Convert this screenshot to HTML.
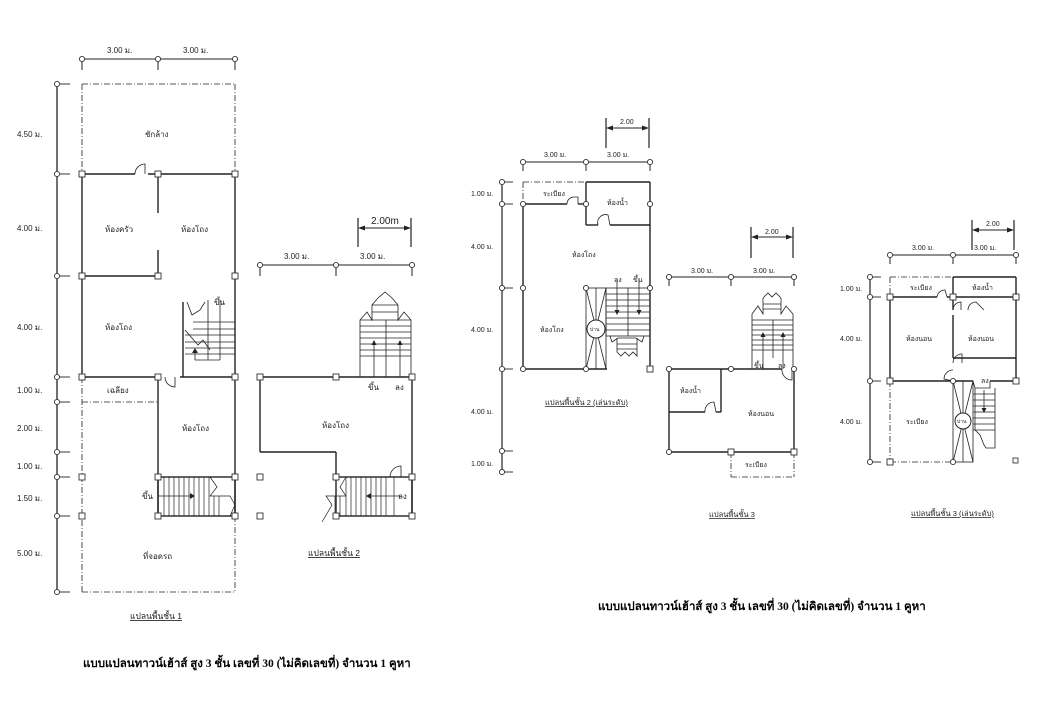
<!DOCTYPE html>
<html><head><meta charset="utf-8"><style>
html,body{margin:0;padding:0;background:#fff;}
svg{display:block;}
text{font-family:"Liberation Sans","Noto Sans CJK SC",sans-serif;fill:#222;}
.t{font-size:8px;}
.s{font-size:7px;}
.cap{font-size:8.5px;text-decoration:underline;}
.ttl{font-family:"Liberation Serif","Noto Serif CJK SC",serif;font-size:11.5px;font-weight:bold;fill:#000;}
</style></head><body>
<svg width="1040" height="720" viewBox="0 0 1040 720" xmlns="http://www.w3.org/2000/svg">
<defs>
<g id="c"><circle r="2.6" fill="#fff" stroke="#333" stroke-width="0.9"/></g>
<g id="q"><rect x="-3" y="-3" width="6" height="6" fill="#fff" stroke="#333" stroke-width="0.9"/></g>
</defs>
<g stroke="#222" fill="none" stroke-width="1">

<!-- ===== PLAN 1 ===== -->
<line x1="82" y1="59" x2="235" y2="59"/>
<line x1="82" y1="59" x2="82" y2="70"/><line x1="158" y1="59" x2="158" y2="70"/><line x1="235" y1="59" x2="235" y2="70"/>
<line x1="57" y1="84" x2="57" y2="592" stroke-width="1.3"/>
<g stroke-width="0.9">
<line x1="57" y1="84" x2="70" y2="84"/><line x1="57" y1="174" x2="70" y2="174"/><line x1="57" y1="276" x2="70" y2="276"/>
<line x1="57" y1="377" x2="70" y2="377"/><line x1="57" y1="402" x2="70" y2="402"/><line x1="57" y1="452" x2="70" y2="452"/>
<line x1="57" y1="477" x2="70" y2="477"/><line x1="57" y1="516" x2="70" y2="516"/><line x1="57" y1="592" x2="70" y2="592"/>
</g>
<g stroke-dasharray="6,2,1,2" stroke-width="0.8">
<line x1="82" y1="84" x2="235" y2="84"/><line x1="82" y1="84" x2="82" y2="174"/><line x1="235" y1="84" x2="235" y2="174"/>
<line x1="82" y1="402" x2="158" y2="402"/><line x1="82" y1="377" x2="82" y2="592"/>
<line x1="82" y1="592" x2="235" y2="592"/><line x1="235" y1="516" x2="235" y2="592"/>
</g>
<g stroke-width="1.4">
<line x1="82" y1="174" x2="135" y2="174"/><line x1="148" y1="174" x2="235" y2="174"/>
<line x1="82" y1="174" x2="82" y2="377"/><line x1="235" y1="174" x2="235" y2="516"/>
<line x1="158" y1="174" x2="158" y2="213"/><line x1="158" y1="250" x2="158" y2="276"/>
<line x1="82" y1="276" x2="158" y2="276"/>
<line x1="82" y1="377" x2="158" y2="377"/><line x1="180" y1="377" x2="235" y2="377"/>
<line x1="158" y1="377" x2="158" y2="516"/>
<line x1="183" y1="302" x2="183" y2="377"/>
</g>
<path d="M135 174 A10 10 0 0 1 145 164 L145 174" stroke-width="0.8"/>
<path d="M165 377 A10 10 0 0 0 175 387 L175 377" stroke-width="0.8"/>
<!-- stair plan1 upper -->
<g stroke-width="0.8">
<line x1="193" y1="322" x2="235" y2="322"/><line x1="193" y1="329" x2="235" y2="329"/><line x1="185" y1="335" x2="235" y2="335"/>
<line x1="185" y1="342" x2="235" y2="342"/><line x1="185" y1="348" x2="235" y2="348"/><line x1="185" y1="354" x2="235" y2="354"/>
<line x1="208" y1="300" x2="208" y2="360"/><line x1="195" y1="360" x2="220" y2="360"/><line x1="220" y1="300" x2="220" y2="360"/>
<line x1="195" y1="350" x2="195" y2="360"/>
<path d="M185 330 L198 345 L203 340 L210 350"/>
<path d="M187 302 L192 315 L200 310 L205 302"/>
</g>
<polygon points="195,348 192,353 198,353" fill="#222" stroke="none"/>
<!-- stair plan1 lower -->
<rect x="158" y="477" width="77" height="39" stroke-width="1.4"/>
<g stroke-width="0.7">
<line x1="164" y1="477" x2="164" y2="516"/><line x1="169" y1="477" x2="169" y2="516"/><line x1="174" y1="477" x2="174" y2="516"/>
<line x1="179" y1="477" x2="179" y2="516"/><line x1="184" y1="477" x2="184" y2="516"/><line x1="189" y1="477" x2="189" y2="516"/>
<line x1="194" y1="477" x2="194" y2="516"/><line x1="199" y1="477" x2="199" y2="516"/><line x1="204" y1="477" x2="204" y2="516"/>
<line x1="209" y1="477" x2="209" y2="516"/><line x1="214" y1="496" x2="214" y2="516"/><line x1="219" y1="496" x2="219" y2="516"/>
<line x1="158" y1="496" x2="190" y2="496"/>
<path d="M210 477 L217 487 L210 496 L230 496 L235 505 L230 516"/>
</g>
<polygon points="190,493 190,499 195,496" fill="#222" stroke="none"/>

<!-- ===== PLAN 2 (left-middle) ===== -->
<line x1="260" y1="265" x2="412" y2="265"/>
<line x1="260" y1="265" x2="260" y2="276"/><line x1="336" y1="265" x2="336" y2="276"/><line x1="412" y1="265" x2="412" y2="276"/>
<line x1="358" y1="218" x2="358" y2="247" stroke-width="1.2"/><line x1="411" y1="218" x2="411" y2="247" stroke-width="1.2"/>
<line x1="362" y1="228" x2="407" y2="228"/>
<polygon points="358,228 365,225.5 365,230.5" fill="#222" stroke="none"/><polygon points="411,228 404,225.5 404,230.5" fill="#222" stroke="none"/>
<g stroke-width="0.8">
<path d="M360 377 L360 320 L367 312 L372 320 L372 305 L378 298 L385 292 L392 298 L398 305 L398 320 L404 312 L411 320 L411 377"/>
<line x1="372" y1="305" x2="398" y2="305"/><line x1="372" y1="312" x2="398" y2="312"/><line x1="360" y1="320" x2="411" y2="320"/>
<line x1="360" y1="326" x2="411" y2="326"/><line x1="360" y1="332" x2="411" y2="332"/><line x1="360" y1="338" x2="411" y2="338"/>
<line x1="360" y1="344" x2="411" y2="344"/><line x1="360" y1="350" x2="411" y2="350"/><line x1="360" y1="356" x2="411" y2="356"/>
<line x1="386" y1="320" x2="386" y2="377"/>
<line x1="374" y1="342" x2="374" y2="377"/><line x1="400" y1="342" x2="400" y2="377"/>
</g>
<polygon points="374,340 371.5,345 376.5,345" fill="#222" stroke="none"/><polygon points="400,340 397.5,345 402.5,345" fill="#222" stroke="none"/>
<g stroke-width="1.4">
<line x1="260" y1="377" x2="412" y2="377"/><line x1="260" y1="377" x2="260" y2="452"/>
<line x1="260" y1="452" x2="336" y2="452"/><line x1="336" y1="452" x2="336" y2="477"/>
<line x1="412" y1="377" x2="412" y2="516"/>
<rect x="336" y="477" width="76" height="39"/>
</g>
<path d="M390 477 A11 11 0 0 1 401 466 L401 477" stroke-width="0.8"/>
<g stroke-width="0.7">
<line x1="346" y1="477" x2="346" y2="516"/><line x1="351" y1="477" x2="351" y2="516"/><line x1="356" y1="477" x2="356" y2="516"/>
<line x1="361" y1="477" x2="361" y2="516"/><line x1="366" y1="477" x2="366" y2="516"/><line x1="371" y1="477" x2="371" y2="516"/>
<line x1="376" y1="477" x2="376" y2="516"/><line x1="381" y1="477" x2="381" y2="516"/><line x1="386" y1="477" x2="386" y2="516"/>
<line x1="394" y1="477" x2="394" y2="516"/>
<line x1="370" y1="496" x2="400" y2="496"/>
<path d="M346 477 L340 487 L346 496 L326 496 L332 505 L322 522"/>
<line x1="340" y1="496" x2="340" y2="516"/><line x1="335" y1="496" x2="335" y2="516"/>
</g>
<polygon points="366,496 371,493 371,499" fill="#222" stroke="none"/>

<!-- ===== PLAN 3 (2nd floor alt) ===== -->
<line x1="523" y1="162" x2="650" y2="162"/>
<line x1="523" y1="162" x2="523" y2="171"/><line x1="586" y1="162" x2="586" y2="171"/><line x1="650" y1="162" x2="650" y2="171"/>
<line x1="606" y1="118" x2="606" y2="148" stroke-width="1.2"/><line x1="649" y1="118" x2="649" y2="148" stroke-width="1.2"/>
<line x1="610" y1="128" x2="645" y2="128"/>
<polygon points="606,128 613,125.5 613,130.5" fill="#222" stroke="none"/><polygon points="649,128 642,125.5 642,130.5" fill="#222" stroke="none"/>
<line x1="502" y1="182" x2="502" y2="472" stroke-width="1.2"/>
<g stroke-width="0.9">
<line x1="502" y1="182" x2="513" y2="182"/><line x1="502" y1="204" x2="513" y2="204"/><line x1="502" y1="288" x2="513" y2="288"/>
<line x1="502" y1="369" x2="513" y2="369"/><line x1="502" y1="451" x2="513" y2="451"/><line x1="502" y1="472" x2="513" y2="472"/>
</g>
<g stroke-dasharray="6,2,1,2" stroke-width="0.8">
<line x1="523" y1="182" x2="586" y2="182"/><line x1="523" y1="182" x2="523" y2="204"/>
</g>
<g stroke-width="1.4">
<line x1="523" y1="204" x2="567" y2="204"/><line x1="578" y1="204" x2="586" y2="204"/>
<line x1="586" y1="182" x2="650" y2="182"/><line x1="586" y1="182" x2="586" y2="225"/>
<line x1="586" y1="225" x2="598" y2="225"/><line x1="610" y1="225" x2="650" y2="225"/>
<line x1="523" y1="204" x2="523" y2="369"/><line x1="650" y1="182" x2="650" y2="369"/>
<line x1="523" y1="369" x2="607" y2="369"/>
</g>
<path d="M567 204 A7 7 0 0 1 574 197 L578 197 L578 204" stroke-width="0.8"/>
<path d="M598 225 A8 8 0 0 1 608 215 L610 225" stroke-width="0.8"/>
<!-- fan & stair -->
<g stroke-width="0.8">
<rect x="586" y="288" width="20" height="81"/>
<line x1="586" y1="288" x2="606" y2="369"/><line x1="606" y1="288" x2="586" y2="369"/>
<line x1="596" y1="288" x2="596" y2="369"/>
</g>
<circle cx="596" cy="329" r="9" fill="#fff" stroke="#222" stroke-width="1"/>
<g stroke-width="0.8">
<rect x="606" y="288" width="44" height="48"/>
<line x1="606" y1="294" x2="650" y2="294"/><line x1="606" y1="300" x2="650" y2="300"/><line x1="606" y1="306" x2="650" y2="306"/>
<line x1="606" y1="312" x2="650" y2="312"/><line x1="606" y1="318" x2="650" y2="318"/><line x1="606" y1="324" x2="650" y2="324"/>
<line x1="606" y1="330" x2="650" y2="330"/><line x1="628" y1="288" x2="628" y2="336"/>
<line x1="617" y1="280" x2="617" y2="312"/><line x1="639" y1="280" x2="639" y2="312"/>
<path d="M610 336 L612 342 L618 338 L636 338 L642 342 L644 336"/>
<path d="M617 338 L617 352 L621 356 L625 352 L629 356 L633 352 L637 356 L637 338"/>
<line x1="617" y1="344" x2="637" y2="344"/><line x1="617" y1="349" x2="637" y2="349"/>
</g>
<polygon points="617,315 614.5,310 619.5,310" fill="#222" stroke="none"/><polygon points="639,315 636.5,310 641.5,310" fill="#222" stroke="none"/>

<!-- ===== PLAN 4 (3rd floor) ===== -->
<line x1="669" y1="277" x2="794" y2="277"/>
<line x1="669" y1="277" x2="669" y2="286"/><line x1="731" y1="277" x2="731" y2="286"/><line x1="794" y1="277" x2="794" y2="286"/>
<line x1="751" y1="227" x2="751" y2="258" stroke-width="1.2"/><line x1="793" y1="227" x2="793" y2="258" stroke-width="1.2"/>
<line x1="755" y1="237" x2="789" y2="237"/>
<polygon points="751,237 758,234.5 758,239.5" fill="#222" stroke="none"/><polygon points="793,237 786,234.5 786,239.5" fill="#222" stroke="none"/>
<g stroke-width="0.8">
<path d="M752 369 L752 314 L758 306 L763 314 L763 298 L768 293 L772 297 L776 293 L781 298 L781 314 L786 306 L793 314 L793 369"/>
<line x1="763" y1="304" x2="781" y2="304"/><line x1="763" y1="309" x2="781" y2="309"/>
<line x1="752" y1="320" x2="793" y2="320"/><line x1="752" y1="325" x2="793" y2="325"/><line x1="752" y1="330" x2="793" y2="330"/>
<line x1="752" y1="335" x2="793" y2="335"/><line x1="752" y1="340" x2="793" y2="340"/><line x1="752" y1="345" x2="793" y2="345"/>
<line x1="752" y1="350" x2="793" y2="350"/><line x1="773" y1="320" x2="773" y2="358"/>
<line x1="763" y1="334" x2="763" y2="369"/><line x1="783" y1="334" x2="783" y2="369"/>
</g>
<polygon points="763,332 760.5,337 765.5,337" fill="#222" stroke="none"/><polygon points="783,332 780.5,337 785.5,337" fill="#222" stroke="none"/>
<g stroke-width="1.4">
<line x1="669" y1="369" x2="782" y2="369"/><line x1="669" y1="369" x2="669" y2="452"/>
<line x1="794" y1="369" x2="794" y2="452"/><line x1="669" y1="452" x2="794" y2="452"/>
<line x1="721" y1="369" x2="721" y2="412"/><line x1="669" y1="412" x2="705" y2="412"/><line x1="716" y1="412" x2="721" y2="412"/>
</g>
<path d="M705 412 A9 9 0 0 1 714 402 L716 412" stroke-width="0.8"/>
<path d="M782 369 A10 10 0 0 0 792 380 L792 369" stroke-width="0.8"/>
<g stroke-dasharray="6,2,1,2" stroke-width="0.8">
<line x1="731" y1="452" x2="731" y2="477"/><line x1="731" y1="477" x2="794" y2="477"/><line x1="794" y1="452" x2="794" y2="477"/>
</g>

<!-- ===== PLAN 5 (3rd floor alt) ===== -->
<line x1="890" y1="255" x2="1016" y2="255"/>
<line x1="890" y1="255" x2="890" y2="264"/><line x1="953" y1="255" x2="953" y2="264"/><line x1="1016" y1="255" x2="1016" y2="264"/>
<line x1="972" y1="220" x2="972" y2="250" stroke-width="1.2"/><line x1="1014" y1="220" x2="1014" y2="250" stroke-width="1.2"/>
<line x1="976" y1="230" x2="1010" y2="230"/>
<polygon points="972,230 979,227.5 979,232.5" fill="#222" stroke="none"/><polygon points="1014,230 1007,227.5 1007,232.5" fill="#222" stroke="none"/>
<line x1="870" y1="277" x2="870" y2="462" stroke-width="1.2"/>
<g stroke-width="0.9">
<line x1="870" y1="277" x2="881" y2="277"/><line x1="870" y1="297" x2="881" y2="297"/><line x1="870" y1="381" x2="881" y2="381"/><line x1="870" y1="462" x2="881" y2="462"/>
</g>
<g stroke-dasharray="6,2,1,2" stroke-width="0.8">
<line x1="890" y1="277" x2="953" y2="277"/><line x1="890" y1="277" x2="890" y2="297"/>
<line x1="890" y1="381" x2="890" y2="462"/><line x1="890" y1="462" x2="953" y2="462"/>
</g>
<g stroke-width="1.4">
<line x1="953" y1="277" x2="1016" y2="277"/><line x1="1016" y1="277" x2="1016" y2="381"/>
<line x1="890" y1="297" x2="937" y2="297"/><line x1="947" y1="297" x2="1016" y2="297"/>
<line x1="890" y1="297" x2="890" y2="381"/><line x1="953" y1="277" x2="953" y2="310"/>
<line x1="953" y1="315" x2="953" y2="358"/><line x1="953" y1="358" x2="1016" y2="358"/>
<line x1="890" y1="381" x2="973" y2="381"/><line x1="990" y1="381" x2="1016" y2="381"/>
</g>
<path d="M937 297 A8 8 0 0 1 945 290 L947 297" stroke-width="0.8"/>
<path d="M953 310 A8 8 0 0 1 961 302 L961 310" stroke-width="0.8"/>
<path d="M968 310 A8 8 0 0 1 976 302 L984 310" stroke-width="0.8"/>
<path d="M953 363 A9 9 0 0 1 962 354 L962 363" stroke-width="0.8"/>
<path d="M953 370 A9 9 0 0 0 944 379 L953 381" stroke-width="0.8"/>
<g stroke-width="0.8">
<rect x="953" y="381" width="20" height="81"/>
<line x1="953" y1="381" x2="973" y2="462"/><line x1="973" y1="381" x2="953" y2="462"/>
<line x1="963" y1="381" x2="963" y2="462"/>
<path d="M973 381 L975 388 L990 388 L990 381"/>
<line x1="973" y1="394" x2="995" y2="394"/><line x1="973" y1="400" x2="995" y2="400"/><line x1="973" y1="406" x2="995" y2="406"/>
<line x1="973" y1="412" x2="995" y2="412"/><line x1="973" y1="418" x2="995" y2="418"/><line x1="973" y1="424" x2="995" y2="424"/>
<line x1="973" y1="430" x2="995" y2="430"/>
<path d="M975 388 L975 430 L980 435 L984 445 L986 448 L995 448 L995 388"/>
<line x1="984" y1="390" x2="984" y2="410"/>
</g>
<polygon points="984,413 981.5,408 986.5,408" fill="#222" stroke="none"/>
<circle cx="963" cy="421" r="8" fill="#fff" stroke="#222" stroke-width="1"/>
<rect x="1013" y="458" width="5" height="5" stroke-width="0.8"/>
</g>

<!-- markers -->
<g>
<use href="#c" x="82" y="59"/><use href="#c" x="158" y="59"/><use href="#c" x="235" y="59"/>
<use href="#c" x="57" y="84"/><use href="#c" x="57" y="174"/><use href="#c" x="57" y="276"/><use href="#c" x="57" y="377"/>
<use href="#c" x="57" y="402"/><use href="#c" x="57" y="452"/><use href="#c" x="57" y="477"/><use href="#c" x="57" y="516"/><use href="#c" x="57" y="592"/>
<use href="#q" x="82" y="174"/><use href="#q" x="158" y="174"/><use href="#q" x="235" y="174"/>
<use href="#q" x="82" y="276"/><use href="#q" x="158" y="276"/><use href="#q" x="235" y="276"/>
<use href="#q" x="82" y="377"/><use href="#q" x="158" y="377"/><use href="#q" x="235" y="377"/>
<use href="#q" x="82" y="477"/><use href="#q" x="158" y="477"/><use href="#q" x="235" y="477"/>
<use href="#q" x="82" y="516"/><use href="#q" x="158" y="516"/><use href="#q" x="235" y="516"/>
<use href="#c" x="260" y="265"/><use href="#c" x="336" y="265"/><use href="#c" x="412" y="265"/>
<use href="#q" x="260" y="377"/><use href="#q" x="336" y="377"/><use href="#q" x="412" y="377"/>
<use href="#q" x="260" y="477"/><use href="#q" x="336" y="477"/><use href="#q" x="412" y="477"/>
<use href="#q" x="260" y="516"/><use href="#q" x="336" y="516"/><use href="#q" x="412" y="516"/>
<use href="#c" x="523" y="162"/><use href="#c" x="586" y="162"/><use href="#c" x="650" y="162"/>
<use href="#c" x="502" y="182"/><use href="#c" x="502" y="204"/><use href="#c" x="502" y="288"/><use href="#c" x="502" y="369"/><use href="#c" x="502" y="451"/><use href="#c" x="502" y="472"/>
<use href="#c" x="523" y="204"/><use href="#c" x="586" y="204"/><use href="#c" x="650" y="204"/>
<use href="#c" x="523" y="288"/><use href="#c" x="586" y="288"/><use href="#c" x="650" y="288"/>
<use href="#c" x="523" y="369"/><use href="#c" x="586" y="369"/><use href="#q" x="650" y="369"/>
<use href="#c" x="669" y="277"/><use href="#c" x="731" y="277"/><use href="#c" x="794" y="277"/>
<use href="#c" x="669" y="369"/><use href="#c" x="731" y="369"/><use href="#c" x="794" y="369"/>
<use href="#c" x="669" y="452"/><use href="#q" x="731" y="452"/><use href="#q" x="794" y="452"/>
<use href="#c" x="890" y="255"/><use href="#c" x="953" y="255"/><use href="#c" x="1016" y="255"/>
<use href="#c" x="870" y="277"/><use href="#c" x="870" y="297"/><use href="#c" x="870" y="381"/><use href="#c" x="870" y="462"/>
<use href="#q" x="890" y="297"/><use href="#q" x="953" y="297"/><use href="#q" x="1016" y="297"/>
<use href="#q" x="890" y="381"/><use href="#c" x="953" y="381"/><use href="#q" x="1016" y="381"/>
<use href="#q" x="890" y="462"/><use href="#c" x="953" y="462"/>
</g>

<!-- texts -->
<g class="t">
<text x="107" y="53">3.00 ม.</text><text x="183" y="53">3.00 ม.</text>
<text x="17" y="137">4.50 ม.</text><text x="17" y="231">4.00 ม.</text><text x="17" y="330">4.00 ม.</text>
<text x="17" y="393">1.00 ม.</text><text x="17" y="431">2.00 ม.</text><text x="17" y="469">1.00 ม.</text>
<text x="17" y="501">1.50 ม.</text><text x="17" y="556">5.00 ม.</text>
<text x="145" y="137">ชักล้าง</text><text x="105" y="232">ห้องครัว</text><text x="181" y="232">ห้องโถง</text>
<text x="105" y="330">ห้องโถง</text><text x="107" y="393">เฉลียง</text><text x="182" y="431">ห้องโถง</text>
<text x="142" y="499">ขึ้น</text><text x="143" y="559">ที่จอดรถ</text><text x="214" y="305">ขึ้น</text>
<text x="284" y="259">3.00 ม.</text><text x="360" y="259">3.00 ม.</text>
<text x="371" y="224" style="font-size:10px">2.00m</text>
<text x="368" y="390">ขึ้น</text><text x="395" y="390">ลง</text>
<text x="322" y="428">ห้องโถง</text><text x="398" y="499">ลง</text>
</g>
<g class="s">
<text x="544" y="157">3.00 ม.</text><text x="607" y="157">3.00 ม.</text><text x="620" y="124">2.00</text>
<text x="471" y="196">1.00 ม.</text><text x="471" y="249">4.00 ม.</text><text x="471" y="332">4.00 ม.</text>
<text x="471" y="414">4.00 ม.</text><text x="471" y="466">1.00 ม.</text>
<text x="543" y="196">ระเบียง</text><text x="607" y="205">ห้องน้ำ</text><text x="572" y="257">ห้องโถง</text>
<text x="540" y="332">ห้องโถง</text><text x="590" y="331" style="font-size:5px">บ่าน</text>
<text x="614" y="282">ลง</text><text x="633" y="282">ขึ้น</text>
<text x="691" y="273">3.00 ม.</text><text x="753" y="273">3.00 ม.</text><text x="765" y="234">2.00</text>
<text x="754" y="368">ขึ้น</text><text x="778" y="368">ลง</text>
<text x="680" y="393">ห้องน้ำ</text><text x="748" y="416">ห้องนอน</text><text x="745" y="467">ระเบียง</text>
<text x="912" y="250">3.00 ม.</text><text x="974" y="250">3.00 ม.</text><text x="986" y="226">2.00</text>
<text x="840" y="291">1.00 ม.</text><text x="840" y="341">4.00 ม.</text><text x="840" y="424">4.00 ม.</text>
<text x="910" y="290">ระเบียง</text><text x="972" y="290">ห้องน้ำ</text>
<text x="906" y="341">ห้องนอน</text><text x="968" y="341">ห้องนอน</text><text x="906" y="424">ระเบียง</text>
<text x="981" y="383">ลง</text><text x="957" y="423" style="font-size:5px">บ่าน</text>
</g>
<text class="cap" x="130" y="619">แปลนพื้นชั้น 1</text>
<text class="cap" x="308" y="556">แปลนพื้นชั้น 2</text>
<text class="cap" x="545" y="405" style="font-size:7.5px">แปลนพื้นชั้น 2 (เล่นระดับ)</text>
<text class="cap" x="709" y="517" style="font-size:7.5px">แปลนพื้นชั้น 3</text>
<text class="cap" x="911" y="516" style="font-size:7.5px">แปลนพื้นชั้น 3 (เล่นระดับ)</text>
<text class="ttl" x="83" y="667">แบบแปลนทาวน์เฮ้าส์ สูง 3 ชั้น เลขที่ 30 (ไม่คิดเลขที่)  จำนวน  1 คูหา</text>
<text class="ttl" x="598" y="610">แบบแปลนทาวน์เฮ้าส์ สูง 3 ชั้น เลขที่ 30 (ไม่คิดเลขที่)  จำนวน  1 คูหา</text>
</svg>
</body></html>
